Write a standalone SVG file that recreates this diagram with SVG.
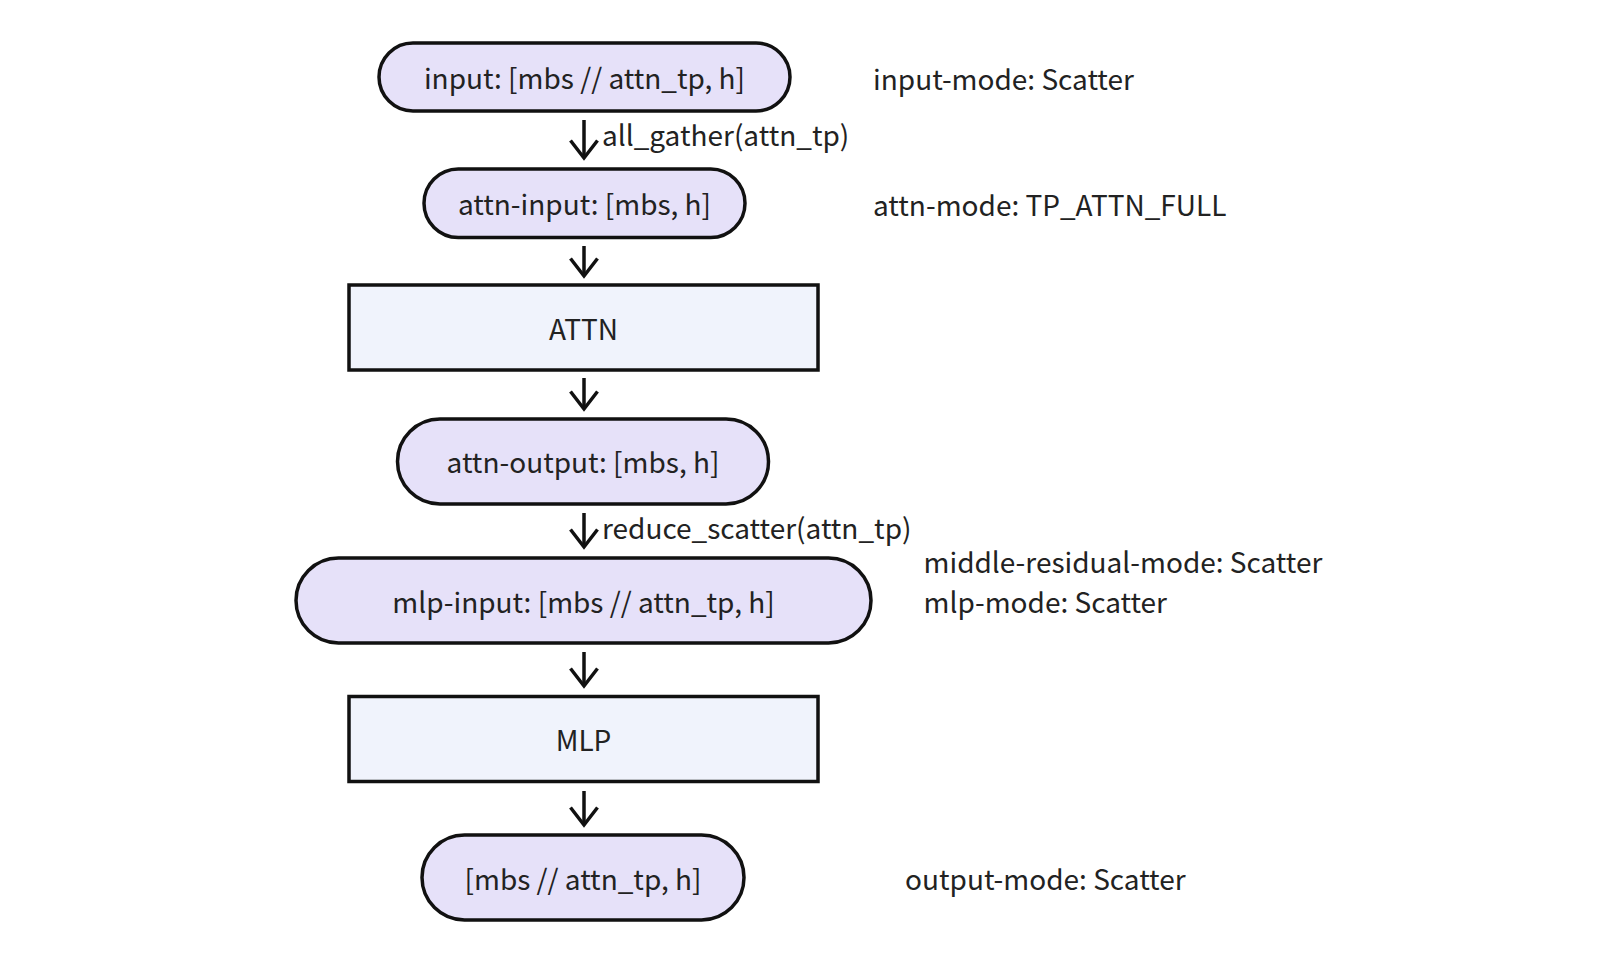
<svg xmlns="http://www.w3.org/2000/svg" width="1618" height="962" viewBox="0 0 1618 962">
  <defs>
    <style>
      .pill { fill: #E6E1F9; stroke: #111; stroke-width: 3.5; }
      .box { fill: #F0F3FC; stroke: #111; stroke-width: 3.5; }
      text { font-family: "Noto Sans CJK SC", "Noto Sans", "Liberation Sans", sans-serif; font-size: 28px; fill: #222; }
      .c { text-anchor: middle; }
      .edge { fill: none; stroke: #111; stroke-width: 3.5; }
    </style>
    <marker id="arr" markerUnits="userSpaceOnUse" viewBox="-15 -20 30 22" refX="0" refY="0" markerWidth="30" markerHeight="22" orient="auto-start-reverse" overflow="visible">
      <path d="M -13.5 -17.5 L 0 0 L 13.5 -17.5" fill="none" stroke="#111" stroke-width="3.5" transform="rotate(-90)"/>
    </marker>
  </defs>
  <rect width="1618" height="962" fill="#ffffff"/>

  <g id="connectors">
    <g id="e1"><path class="edge" d="M 584 120 L 584 158" marker-end="url(#arr)"/><text x="602" y="146">all_gather(attn_tp)</text></g>
    <g id="e2"><path class="edge" d="M 584 246 L 584 276" marker-end="url(#arr)"/></g>
    <g id="e3"><path class="edge" d="M 584 378 L 584 409" marker-end="url(#arr)"/></g>
    <g id="e4"><path class="edge" d="M 584 513 L 584 547" marker-end="url(#arr)"/><text x="602" y="539">reduce_scatter(attn_tp)</text></g>
    <g id="e5"><path class="edge" d="M 584 652 L 584 686" marker-end="url(#arr)"/></g>
    <g id="e6"><path class="edge" d="M 584 791 L 584 825" marker-end="url(#arr)"/></g>
  </g>

  <g id="input">
    <rect class="pill" x="379" y="43" width="411" height="68" rx="34"/>
    <text class="c" x="584.5" y="89">input: [mbs // attn_tp, h]</text>
  </g>
  <g id="attn-input">
    <rect class="pill" x="424" y="169" width="321" height="68.5" rx="34.25"/>
    <text class="c" x="584.5" y="215">attn-input: [mbs, h]</text>
  </g>
  <g id="attn">
    <rect class="box" x="349" y="285" width="469" height="85"/>
    <text class="c" x="583.5" y="340">ATTN</text>
  </g>
  <g id="attn-output">
    <rect class="pill" x="397.5" y="419" width="371" height="85" rx="42.5"/>
    <text class="c" x="583" y="473">attn-output: [mbs, h]</text>
  </g>
  <g id="mlp-input">
    <rect class="pill" x="296" y="558" width="575" height="85" rx="42.5"/>
    <text class="c" x="583.5" y="612.5">mlp-input: [mbs // attn_tp, h]</text>
  </g>
  <g id="mlp">
    <rect class="box" x="349" y="696.5" width="469" height="85"/>
    <text class="c" x="583.5" y="751">MLP</text>
  </g>
  <g id="output">
    <rect class="pill" x="422" y="835" width="322" height="85" rx="42.5"/>
    <text class="c" x="583" y="890">[mbs // attn_tp, h]</text>
  </g>

  <g id="modes">
    <text x="873" y="89.5">input-mode: Scatter</text>
    <text x="873" y="215.5">attn-mode: TP_ATTN_FULL</text>
    <text x="923.5" y="572.5">middle-residual-mode: Scatter</text>
    <text x="923.5" y="612.5">mlp-mode: Scatter</text>
    <text x="905" y="890">output-mode: Scatter</text>
  </g>
</svg>
